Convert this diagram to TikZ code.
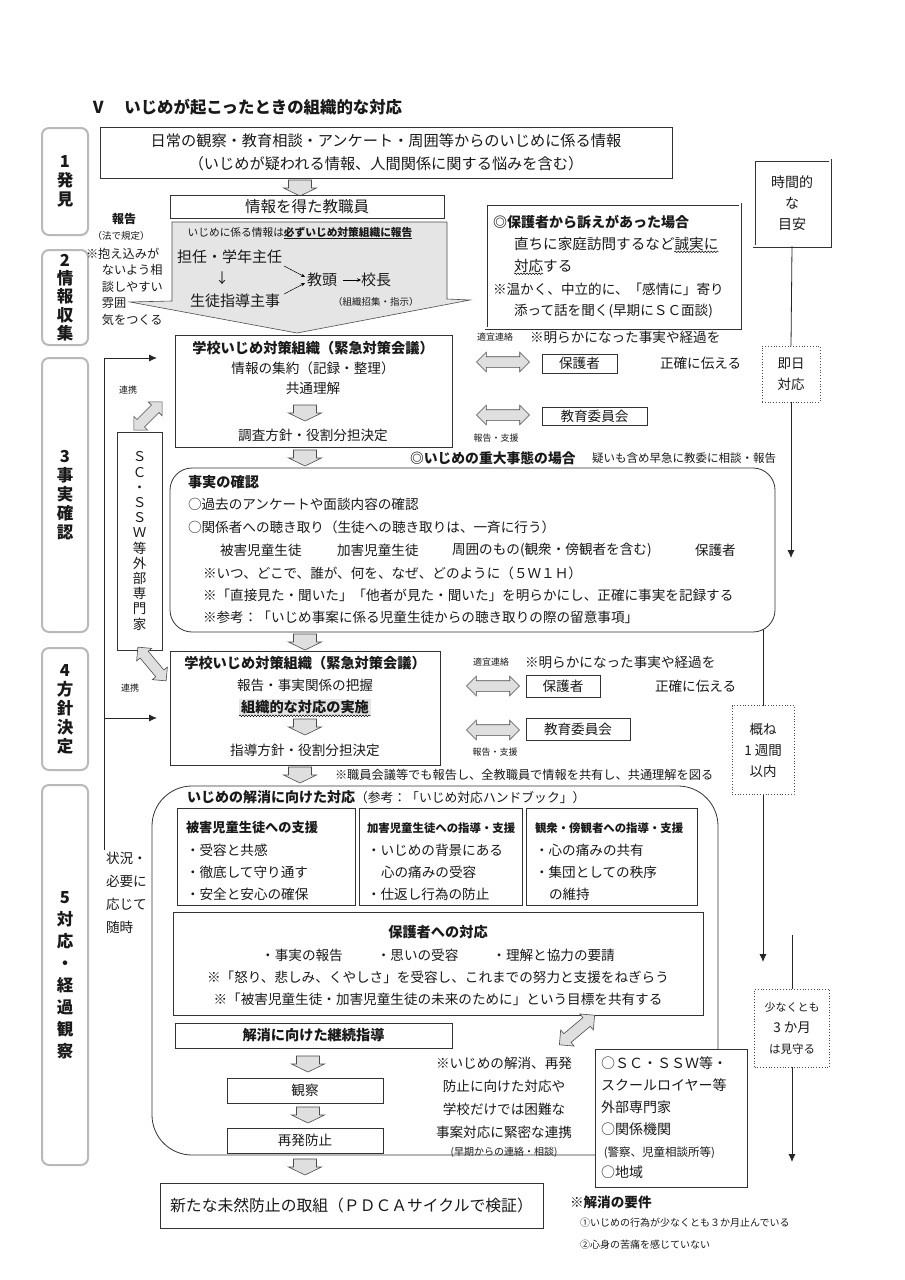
\documentclass[tikz,border=0pt]{standalone}
\usepackage{fontspec}
\setmainfont{Noto Sans CJK JP}
\usetikzlibrary{shapes.arrows,arrows.meta,decorations.pathmorphing,calc}
\begin{document}
\begin{tikzpicture}[x=1pt,y=-1pt,
  every node/.style={inner sep=0pt,outer sep=0pt,text=black!90},
  bx/.style={draw=black!80,line width=0.8pt,fill=white},
  phase/.style={draw=gray!55,line width=2pt,fill=white,rounded corners=7pt,
     align=center,font=\fontsize{16.5}{19}\selectfont\bfseries},
  t/.style={font=\fontsize{13.6}{22}\selectfont},
  tb/.style={font=\fontsize{14.2}{22}\selectfont\bfseries},
  tw/.style={t,anchor=west},
  ts/.style={font=\fontsize{9}{11}\selectfont},
  garr/.pic={\draw[draw=black!70,fill=gray!25,line width=0.6pt] (-11.5,-8) -- (11.5,-8) -- (11.5,0) -- (16.5,0) -- (0,8) -- (-16.5,0) -- (-11.5,0) -- cycle;},
  darrow/.style={double arrow,draw=black!70,fill=gray!25,line width=0.6pt,
     inner xsep=0pt,inner ysep=5pt,minimum height=53pt,minimum width=19pt,
     double arrow head extend=4.5pt},
  tl/.style={line width=0.8pt,draw=black!85},
  tla/.style={tl,-{Latex[length=8pt,width=7pt]}},
  dotbox/.style={draw=black!70,dotted,line width=0.8pt,fill=white,align=center,
     font=\fontsize{13.5}{21}\selectfont},
  dblbox/.style={draw=black!80,double,double distance=1.6pt,line width=0.7pt,fill=white},
  wavy/.style={decorate,decoration={snake,amplitude=0.8pt,segment length=3pt},line width=0.5pt},
  sarr/.style={line width=0.5pt,-{Stealth[length=4pt,width=3.5pt]}},
]
\fill[white] (0,0) rectangle (905,1280);
\useasboundingbox (0,0) rectangle (905,1280);

% title
\node[anchor=west,font=\fontsize{16.4}{18}\selectfont\bfseries] (title) at (90,107) {Ⅴ\hspace{1.1em}いじめが起こったときの組織的な対応};

% phase labels
\node[phase,minimum width=46pt,minimum height=107pt] (p1) at (65,181.5) {1\\発\\見};
\node[phase,minimum width=46pt,minimum height=95pt,font=\fontsize{16.5}{18.2}\selectfont\bfseries] (p2) at (65,297.5) {2\\情\\報\\収\\集};
\node[phase,minimum width=46pt,minimum height=274pt] (p3) at (65,495) {3\\事\\実\\確\\認};
\node[phase,minimum width=46pt,minimum height=122pt] (p4) at (65,709) {4\\方\\針\\決\\定};
\node[phase,minimum width=46pt,minimum height=380pt,font=\fontsize{16.5}{22}\selectfont\bfseries] (p5) at (65,975) {5\\対\\応\\・\\経\\過\\観\\察};

% 1 discovery
\node[bx,minimum width=572pt,minimum height=51pt,align=center,font=\fontsize{15.2}{23}\selectfont] (infoA) at (386,152.5) {日常の観察・教育相談・アンケート・周囲等からのいじめに係る情報\\（いじめが疑われる情報、人間関係に関する悩みを含む）};
\pic at (300,188) {garr};
\node[bx,minimum width=274pt,minimum height=23pt,font=\fontsize{15.5}{17}\selectfont] (infoB) at (307,206.5) {情報を得た教職員};

% 2 big report arrow
\draw[draw=black!70,fill=gray!20,line width=0.6pt] (172,222) -- (447,222) -- (447,299) -- (470,300) -- (297,333) -- (130,302) -- (172,301) -- cycle;
\node[font=\fontsize{10.7}{12}\selectfont] (rep) at (300,233) {いじめに係る情報は\underline{\textbf{必ずいじめ対策組織に報告}}};
\node[anchor=west,font=\fontsize{15}{18}\selectfont] (tan) at (177,257) {担任・学年主任};
\node[font=\fontsize{14}{16}\selectfont] (dn) at (222,278) {↓};
\node[anchor=west,font=\fontsize{15}{18}\selectfont] (sei) at (190,301) {生徒指導主事};
\node[anchor=west,font=\fontsize{15}{18}\selectfont] (kyo) at (307,280) {教頭};
\node[anchor=west,font=\fontsize{15}{18}\selectfont] (kou) at (361,280) {校長};
\node[anchor=west,font=\fontsize{9.5}{12}\selectfont] (sosh) at (333,302) {（組織招集・指示）};
\draw[sarr] ($(tan.south east)+(2,2)$) -- ($(kyo.west)+(-2,-3)$);
\draw[sarr] ($(sei.north east)+(4,0)$) -- ($(kyo.west)+(-2,3)$);
\draw[sarr] ($(kyo.east)+(6,0)$) -- (kou.west);

\node[font=\fontsize{12}{14}\selectfont\bfseries] (hk) at (124,219) {報告};
\node[font=\fontsize{9.5}{12}\selectfont] (hk2) at (121,236) {（法で規定）};
\node[anchor=north west,align=left,font=\fontsize{12.2}{16.5}\selectfont] (hk3) at (86,248) {※抱え込みが\\\hspace*{1.3em}ないよう相\\\hspace*{1.3em}談しやすい\\\hspace*{1.3em}雰囲\\\hspace*{1.3em}気をつくる};

% parent appeal box
\node[dblbox,minimum width=254pt,minimum height=124pt,anchor=north west] (pa) at (486,204) {};
\node[anchor=west,font=\fontsize{14}{16}\selectfont\bfseries] (pa1) at (493,222) {◎保護者から訴えがあった場合};
\node[anchor=west,font=\fontsize{14.6}{16}\selectfont] (pa2) at (514,244) {直ちに家庭訪問するなど誠実に};
\node[anchor=west,font=\fontsize{14.6}{16}\selectfont] (pa3) at (514,266) {対応する};
\node[anchor=west,font=\fontsize{13.6}{16}\selectfont] (pa4) at (493,289) {※温かく、中立的に、「感情に」寄り};
\node[anchor=west,font=\fontsize{13.6}{16}\selectfont] (pa5) at (514,311) {添って話を聞く(早期にＳＣ面談)};
\draw[wavy] ($(pa2.south east)+(-44,1)$) -- ($(pa2.south east)+(0,1)$);
\draw[wavy] ($(pa3.south west)+(0,1)$) -- ($(pa3.south west)+(29,1)$);

% time line
\node[dblbox,minimum width=76pt,minimum height=86pt,align=center,font=\fontsize{14}{21}\selectfont] (tm) at (792,203) {時間的\\な\\目安};
\node[dotbox,minimum width=58pt,minimum height=56pt] (tm1) at (791,374) {即日\\対応};
\coordinate (tm1e) at (791,558);
\draw[tl] (tm.south) -- (tm1.north);
\draw[tla] (tm1.south) -- (tm1e);
\coordinate (tm2s) at (763,537);
\node[dotbox,minimum width=62pt,minimum height=89pt] (tm2) at (763,750) {概ね\\1 週間\\以内};
\coordinate (tm2e) at (763,962);
\draw[tl] (tm2s) -- (tm2.north);
\draw[tla] (tm2.south) -- (tm2e);
\coordinate (tm3s) at (792,935);
\node[dotbox,minimum width=75pt,minimum height=78pt] (tm3) at (792,1028) {{\fontsize{11}{21}\selectfont 少なくとも}\\3 か月\\{\fontsize{11.5}{21}\selectfont は見守る}};
\coordinate (tm3e) at (792,1162);
\draw[tl] (tm3s) -- (tm3.north);
\draw[tla] (tm3.south) -- (tm3e);

% left feedback line
\coordinate (lpa) at (104,358);
\coordinate (lpb) at (157,358);
\coordinate (lpc) at (104,718);
\coordinate (lpd) at (157,718);
\coordinate (lpe) at (104,850);
\draw[tl] (lpe) -- (lpa);
\draw[tla] (lpa) -- (lpb);
\draw[tla] (lpc) -- (lpd);
\node[anchor=north west,align=left,font=\fontsize{13.6}{23}\selectfont] (jk) at (106,852) {状況・\\必要に\\応じて\\随時};

% 3 first meeting
\node[bx,minimum width=277pt,minimum height=112pt,anchor=north west] (c1) at (175,335) {};
\node[tb] (c1a) at (313,348) {学校いじめ対策組織（緊急対策会議）};
\node[t] (c1b) at (313,368) {情報の集約（記録・整理）};
\node[t] (c1c) at (313,388) {共通理解};
\pic at (305,413) {garr};
\node[t] (c1d) at (313,435) {調査方針・役割分担決定};

% SC box
\node[bx,minimum width=45pt,minimum height=218pt,anchor=north west] (scx) at (117,432) {};
\node[align=center,font=\fontsize{13.5}{15.2}\selectfont] (scxt) at (139.5,541) {Ｓ\\Ｃ\\・\\Ｓ\\Ｓ\\Ｗ\\等\\外\\部\\専\\門\\家};
\node[darrow,rotate=45,minimum height=40pt] (da1) at (148,416) {};
\node[ts] (rk1) at (128,390) {連携};
\node[darrow,rotate=-50,minimum height=44pt] (da2) at (152,664) {};
\node[ts] (rk2) at (130,688) {連携};

% right of first meeting
\node[ts] (tk1) at (495,337) {適宜連絡};
\node[tw] (ak1) at (530,337) {※明らかになった事実や経過を};
\node[darrow] (da3) at (503,362) {};
\node[bx,minimum width=75pt,minimum height=19pt,t] (hg1) at (579.5,363.5) {保護者};
\node[tw] (sk1) at (660,363) {正確に伝える};
\node[darrow] (da4) at (503,415) {};
\node[bx,minimum width=105pt,minimum height=18pt,t] (ky1) at (594.5,416.5) {教育委員会};
\node[ts] (hs1) at (496,438) {報告・支援};

\pic at (305,458) {garr};
\node[anchor=west,font=\fontsize{13.8}{16}\selectfont\bfseries] (jd) at (410,458) {◎いじめの重大事態の場合};
\node[anchor=west,font=\fontsize{11.5}{14}\selectfont] (jd2) at (592,458) {疑いも含め早急に教委に相談・報告};

% fact check
\node[draw=black!80,line width=0.8pt,rounded corners=22pt,fill=white,minimum width=605pt,minimum height=164pt,anchor=north west] (rb) at (170,468) {};
\node[anchor=west,tb] (rb0) at (188,482) {事実の確認};
\node[tw] (rb1) at (188,504) {○過去のアンケートや面談内容の確認};
\node[tw] (rb2) at (188,527) {○関係者への聴き取り（生徒への聴き取りは、一斉に行う）};
\node[tw] (rb3a) at (220,550) {被害児童生徒};
\node[tw] (rb3b) at (337,550) {加害児童生徒};
\node[tw] (rb3c) at (452,550) {周囲のもの(観衆・傍観者を含む)};
\node[tw] (rb3d) at (695,550) {保護者};
\node[tw] (rb4) at (203,573) {※いつ、どこで、誰が、何を、なぜ、どのように（５Ｗ１Ｈ）};
\node[tw] (rb5) at (203,595) {※「直接見た・聞いた」「他者が見た・聞いた」を明らかにし、正確に事実を記録する};
\node[tw] (rb6) at (203,617) {※参考：「いじめ事案に係る児童生徒からの聴き取りの際の留意事項」};

\pic at (305,642) {garr};

% 4 second meeting
\node[bx,minimum width=270pt,minimum height=114pt,anchor=north west] (c4) at (170,651) {};
\node[tb] (c4a) at (305,663) {学校いじめ対策組織（緊急対策会議）};
\node[t] (c4b) at (305,685) {報告・事実関係の把握};
\node[tb,fill=gray!20,inner xsep=2pt,inner ysep=1pt] (c4c) at (305,707) {組織的な対応の実施};
\draw[wavy] ($(c4c.south west)+(0,1)$) -- ($(c4c.south east)+(0,1)$);
\pic at (305,727) {garr};
\node[t] (c4d) at (305,750) {指導方針・役割分担決定};

\node[ts] (tk2) at (491,662) {適宜連絡};
\node[tw] (ak2) at (525,662) {※明らかになった事実や経過を};
\node[darrow] (da5) at (493,686) {};
\node[bx,minimum width=74pt,minimum height=22pt,t] (hg2) at (563,686) {保護者};
\node[tw] (sk2) at (655,686) {正確に伝える};
\node[darrow] (da6) at (493,730) {};
\node[bx,minimum width=104pt,minimum height=22pt,t] (ky2) at (578,729) {教育委員会};
\node[ts] (hs2) at (495,752) {報告・支援};

\pic at (300,775) {garr};
\node[anchor=west,font=\fontsize{12.2}{14}\selectfont] (sk) at (335,775) {※職員会議等でも報告し、全教職員で情報を共有し、共通理解を図る};

% 5 response
\node[draw=black!80,line width=0.8pt,rounded corners=40pt,minimum width=566pt,minimum height=369pt,anchor=north west] (b5) at (152,786) {};
\node[anchor=west] (b5t) at (187,797) {{\fontsize{14}{16}\selectfont\bfseries いじめの解消に向けた対応}{\fontsize{12.8}{16}\selectfont （参考：「いじめ対応ハンドブック」）}};

\node[bx,minimum width=178pt,minimum height=97pt,anchor=north west] (sa) at (177,808) {};
\node[anchor=west,font=\fontsize{13.2}{16}\selectfont\bfseries] (sa0) at (186,828) {被害児童生徒への支援};
\node[tw] (sa1) at (186,850) {・受容と共感};
\node[tw] (sa2) at (186,872) {・徹底して守り通す};
\node[tw] (sa3) at (186,894) {・安全と安心の確保};

\node[bx,minimum width=163pt,minimum height=97pt,anchor=north west] (sb) at (359,808) {};
\node[anchor=west,font=\fontsize{11.4}{14}\selectfont\bfseries] (sb0) at (367,828) {加害児童生徒への指導・支援};
\node[tw] (sb1) at (367,850) {・いじめの背景にある};
\node[tw] (sb2) at (381,872) {心の痛みの受容};
\node[tw] (sb3) at (367,894) {・仕返し行為の防止};

\node[bx,minimum width=171pt,minimum height=97pt,anchor=north west] (sc) at (526,808) {};
\node[anchor=west,font=\fontsize{11.4}{14}\selectfont\bfseries] (sc0) at (535,828) {観衆・傍観者への指導・支援};
\node[tw] (sc1) at (535,850) {・心の痛みの共有};
\node[tw] (sc2) at (535,872) {・集団としての秩序};
\node[tw] (sc3) at (549,894) {の維持};

\node[bx,minimum width=530pt,minimum height=103pt,anchor=north west] (hb) at (173,912) {};
\node[tb] (hb0) at (438,932) {保護者への対応};
\node[t] (hb1) at (438,955) {・事実の報告\hspace{2.5em}・思いの受容\hspace{2.5em}・理解と協力の要請};
\node[t] (hb2) at (438,977) {※「怒り、悲しみ、くやしさ」を受容し、これまでの努力と支援をねぎらう};
\node[t] (hb3) at (438,999) {※「被害児童生徒・加害児童生徒の未来のために」という目標を共有する};

\node[bx,minimum width=277pt,minimum height=25pt,tb] (kz) at (313.5,1035.5) {解消に向けた継続指導};
\pic at (308,1064) {garr};
\node[bx,minimum width=156pt,minimum height=25pt,t] (kn) at (305,1090.5) {観察};
\pic at (308,1115) {garr};
\node[bx,minimum width=156pt,minimum height=25pt,t] (sh) at (305,1140.5) {再発防止};

\node[align=center,font=\fontsize{13.6}{23}\selectfont] (rk) at (504,1098) {※いじめの解消、再発\\防止に向けた対応や\\学校だけでは困難な\\事案対応に緊密な連携};
\node[font=\fontsize{10}{12}\selectfont] (rk5) at (504,1152) {(早期からの連絡・相談)};

\node[bx,minimum width=152pt,minimum height=138pt,anchor=north west] (ex) at (595,1049) {};
\node[anchor=north west,align=left,font=\fontsize{14}{21.8}\selectfont] (ex1) at (601,1057) {○ＳＣ・ＳＳＷ等・\\スクールロイヤー等\\外部専門家\\○関係機関\\\hspace*{0.2em}{\fontsize{11.5}{21.8}\selectfont (警察、児童相談所等)}\\○地域};
\node[darrow,rotate=40,minimum height=46pt,minimum width=21pt] (da7) at (577,1030) {};

\pic at (305,1167) {garr};
\node[bx,minimum width=383pt,minimum height=45pt,font=\fontsize{15.8}{20}\selectfont] (pd) at (351.5,1205.5) {新たな未然防止の取組（ＰＤＣＡサイクルで検証）};

\node[anchor=west,font=\fontsize{13.6}{16}\selectfont\bfseries] (yk) at (570,1202) {※解消の要件};
\node[anchor=west,font=\fontsize{10}{12}\selectfont] (yk1) at (580,1223) {①いじめの行為が少なくとも３か月止んでいる};
\node[anchor=west,font=\fontsize{10}{12}\selectfont] (yk2) at (580,1245) {②心身の苦痛を感じていない};
\end{tikzpicture}
\end{document}
